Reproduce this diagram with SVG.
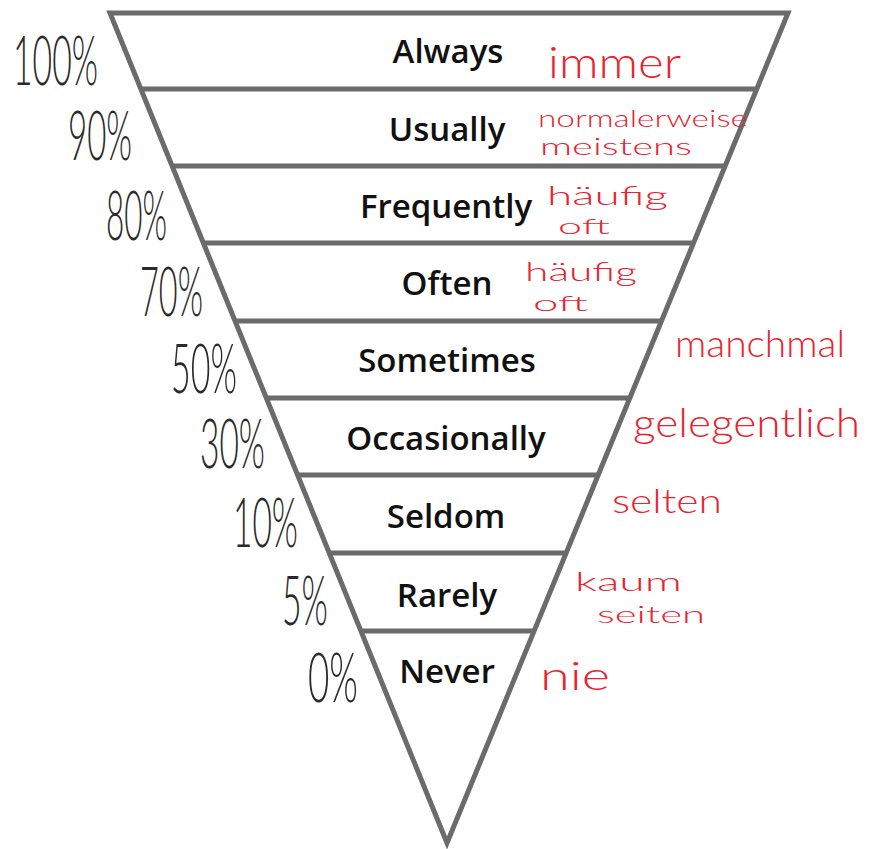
<svg xmlns="http://www.w3.org/2000/svg" width="875" height="849" viewBox="0 0 875 849">
<style>
.frame{fill:none;stroke:#6b6b6b;stroke-width:5;stroke-linejoin:miter}
.div{stroke:#6b6b6b;stroke-width:5}
.lab{font-family:"Open Sans","DejaVu Sans",sans-serif;font-size:33px;font-weight:600;fill:#111;text-anchor:middle}
.pct{font-family:Lato,"DejaVu Sans",sans-serif;font-size:68px;font-weight:300;fill:#2a2a2a;text-anchor:end}
.de{font-family:Lato,"Liberation Sans",sans-serif;font-weight:300;fill:#e8242f}
</style>
<rect width="875" height="849" fill="#fff"/>
<g id="connectors">
<polygon class="frame" points="110,13 788,13 447,843"/>
<line class="div" x1="141" y1="89" x2="757" y2="89"/>
<line class="div" x1="172" y1="166" x2="725" y2="166"/>
<line class="div" x1="203" y1="243" x2="694" y2="243"/>
<line class="div" x1="235" y1="321" x2="661" y2="321"/>
<line class="div" x1="266" y1="398" x2="630" y2="398"/>
<line class="div" x1="298" y1="475" x2="598" y2="475"/>
<line class="div" x1="329" y1="553" x2="566" y2="553"/>
<line class="div" x1="361" y1="631" x2="534" y2="631"/>
</g>
<g id="always">
<text class="pct" x="98" y="85" textLength="85" lengthAdjust="spacingAndGlyphs">100%</text>
<text class="lab" x="448" y="63">Always</text>
<text class="de" x="548" y="78" font-size="44" textLength="133" lengthAdjust="spacingAndGlyphs">immer</text>
</g>
<g id="usually">
<text class="pct" x="132" y="160" textLength="64" lengthAdjust="spacingAndGlyphs">90%</text>
<text class="lab" x="447" y="141">Usually</text>
<text class="de" x="538" y="127" font-size="23" textLength="210" lengthAdjust="spacingAndGlyphs">normalerweise</text>
<text class="de" x="540" y="155" font-size="23" textLength="152" lengthAdjust="spacingAndGlyphs">meistens</text>
</g>
<g id="frequently">
<text class="pct" x="167" y="240" textLength="61" lengthAdjust="spacingAndGlyphs">80%</text>
<text class="lab" x="446" y="218">Frequently</text>
<text class="de" x="547" y="205" font-size="25" textLength="121" lengthAdjust="spacingAndGlyphs">häufig</text>
<text class="de" x="558" y="234" font-size="22" textLength="52" lengthAdjust="spacingAndGlyphs">oft</text>
</g>
<g id="often">
<text class="pct" x="203" y="316" textLength="63" lengthAdjust="spacingAndGlyphs">70%</text>
<text class="lab" x="447" y="295">Often</text>
<text class="de" x="525" y="281" font-size="25" textLength="112" lengthAdjust="spacingAndGlyphs">häufig</text>
<text class="de" x="533" y="311" font-size="22" textLength="55" lengthAdjust="spacingAndGlyphs">oft</text>
</g>
<g id="sometimes">
<text class="pct" x="237" y="393" textLength="66" lengthAdjust="spacingAndGlyphs">50%</text>
<text class="lab" x="447" y="372">Sometimes</text>
<text class="de" x="675" y="357" font-size="38" textLength="170" lengthAdjust="spacingAndGlyphs">manchmal</text>
</g>
<g id="occasionally">
<text class="pct" x="265" y="468" textLength="65" lengthAdjust="spacingAndGlyphs">30%</text>
<text class="lab" x="446" y="450">Occasionally</text>
<text class="de" x="633" y="437" font-size="40" textLength="227" lengthAdjust="spacingAndGlyphs">gelegentlich</text>
</g>
<g id="seldom">
<text class="pct" x="298" y="547" textLength="65" lengthAdjust="spacingAndGlyphs">10%</text>
<text class="lab" x="446" y="528">Seldom</text>
<text class="de" x="612" y="513" font-size="34" textLength="110" lengthAdjust="spacingAndGlyphs">selten</text>
</g>
<g id="rarely">
<text class="pct" x="328" y="625" textLength="46" lengthAdjust="spacingAndGlyphs">5%</text>
<text class="lab" x="447" y="607">Rarely</text>
<text class="de" x="575" y="591" font-size="26" textLength="107" lengthAdjust="spacingAndGlyphs">kaum</text>
<text class="de" x="597" y="623" font-size="24" textLength="108" lengthAdjust="spacingAndGlyphs">seiten</text>
</g>
<g id="never">
<text class="pct" x="358" y="702" textLength="50" lengthAdjust="spacingAndGlyphs">0%</text>
<text class="lab" x="447" y="683">Never</text>
<text class="de" x="540" y="690" font-size="40" textLength="70" lengthAdjust="spacingAndGlyphs">nie</text>
</g>
</svg>
